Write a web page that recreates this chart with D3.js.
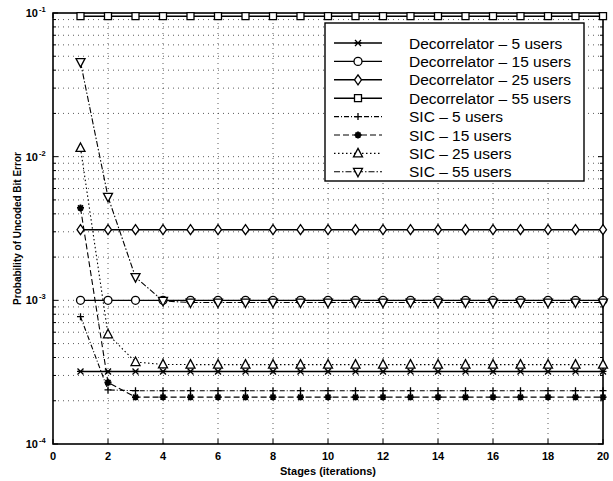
<!DOCTYPE html>
<html>
<head>
<meta charset="utf-8">
<script src="https://cdn.jsdelivr.net/npm/d3@7"></script>
<style>
body { margin: 0; background: #fff; }
text { font-family: "Liberation Sans", Arial, sans-serif; fill: #000; }
</style>
</head>
<body>
<svg id="chart" width="613" height="481"></svg>
<script>
const svgEl = document.getElementById("chart")
const width = +svgEl.getAttribute("width")
const height = +svgEl.getAttribute("height")
const pLeft = 53, pRight = 603, pTop = 13, pBottom = 444
var svg = d3.select("#chart")

// stages 1..20
const stages = d3.range(1, 21)

// Decorrelator curves (flat)
const dec5  = [3.2e-4,3.2e-4,3.2e-4,3.2e-4,3.2e-4,3.2e-4,3.2e-4,3.2e-4,3.2e-4,3.2e-4,3.2e-4,3.2e-4,3.2e-4,3.2e-4,3.2e-4,3.2e-4,3.2e-4,3.2e-4,3.2e-4,3.2e-4]
const dec15 = [1.0e-3,1.0e-3,1.0e-3,1.0e-3,1.0e-3,1.0e-3,1.0e-3,1.0e-3,1.0e-3,1.0e-3,1.0e-3,1.0e-3,1.0e-3,1.0e-3,1.0e-3,1.0e-3,1.0e-3,1.0e-3,1.0e-3,1.0e-3]
const dec25 = [3.1e-3,3.1e-3,3.1e-3,3.1e-3,3.1e-3,3.1e-3,3.1e-3,3.1e-3,3.1e-3,3.1e-3,3.1e-3,3.1e-3,3.1e-3,3.1e-3,3.1e-3,3.1e-3,3.1e-3,3.1e-3,3.1e-3,3.1e-3]
const dec55 = [0.095,0.095,0.095,0.095,0.095,0.095,0.095,0.095,0.095,0.095,0.095,0.095,0.095,0.095,0.095,0.095,0.095,0.095,0.095,0.095]
// SIC curves
const sic5  = [7.7e-4,2.38e-4,2.35e-4,2.35e-4,2.35e-4,2.35e-4,2.35e-4,2.35e-4,2.35e-4,2.35e-4,2.35e-4,2.35e-4,2.35e-4,2.35e-4,2.35e-4,2.35e-4,2.35e-4,2.35e-4,2.35e-4,2.35e-4]
const sic15 = [4.4e-3,2.68e-4,2.12e-4,2.12e-4,2.12e-4,2.12e-4,2.12e-4,2.12e-4,2.12e-4,2.12e-4,2.12e-4,2.12e-4,2.12e-4,2.12e-4,2.12e-4,2.12e-4,2.12e-4,2.12e-4,2.12e-4,2.12e-4]
const sic25 = [1.15e-2,5.8e-4,3.72e-4,3.58e-4,3.57e-4,3.57e-4,3.57e-4,3.57e-4,3.57e-4,3.57e-4,3.57e-4,3.57e-4,3.57e-4,3.57e-4,3.57e-4,3.57e-4,3.57e-4,3.57e-4,3.57e-4,3.57e-4]
const sic55 = [4.55e-2,5.25e-3,1.45e-3,9.9e-4,9.65e-4,9.65e-4,9.65e-4,9.65e-4,9.65e-4,9.65e-4,9.65e-4,9.65e-4,9.65e-4,9.65e-4,9.65e-4,9.65e-4,9.65e-4,9.65e-4,9.65e-4,9.65e-4]

const names = ["Decorrelator \u2013 5 users","Decorrelator \u2013 15 users","Decorrelator \u2013 25 users","Decorrelator \u2013 55 users",
  "SIC \u2013 5 users","SIC \u2013 15 users","SIC \u2013 25 users","SIC \u2013 55 users"]
const values = [dec5, dec15, dec25, dec55, sic5, sic15, sic25, sic55]
const markers = ["x","circle","diamond","square","plus","star","triup","tridown"]
const dashes = [null, null, null, null, "5,2,1,2", "6,3", "1.5,2.5", "6,2,1.5,2"]

const xTicks = [0,2,4,6,8,10,12,14,16,18,20]
const yMajor = [1e-4,1e-3,1e-2,1e-1]
const yLabels = ["-4","-3","-2","-1"]

var x = d3.scaleLinear().domain([0,20]).range([pLeft, pRight])
var y = d3.scaleLog().domain([1e-4,1e-1]).range([pBottom, pTop])

// minor grid values
var yMinor = []
yMajor.slice(0,3).forEach(m => { for (var k = 2; k <= 9; k++) yMinor.push(m*k) })

// grid
var grid = svg.append("g").attr("stroke", "#333").attr("stroke-width", 0.8).attr("stroke-dasharray", "1,4")
grid.selectAll("line.gx").data(xTicks.slice(1,-1)).enter().append("line")
  .attr("x1", d => x(d)).attr("x2", d => x(d)).attr("y1", pTop).attr("y2", pBottom)
grid.selectAll("line.gy").data(yMinor.concat([1e-3,1e-2])).enter().append("line")
  .attr("y1", d => y(d)).attr("y2", d => y(d)).attr("x1", pLeft).attr("x2", pRight)

// frame
svg.append("rect").attr("x", pLeft).attr("y", pTop).attr("width", pRight-pLeft).attr("height", pBottom-pTop)
  .attr("fill", "none").attr("stroke", "#000").attr("stroke-width", 1.6)

// ticks (inward)
var tk = svg.append("g").attr("stroke", "#000").attr("stroke-width", 1)
xTicks.forEach(d => {
  tk.append("line").attr("x1", x(d)).attr("x2", x(d)).attr("y1", pBottom).attr("y2", pBottom-5)
  tk.append("line").attr("x1", x(d)).attr("x2", x(d)).attr("y1", pTop).attr("y2", pTop+5)
})
yMajor.concat(yMinor).forEach(d => {
  var l = yMajor.indexOf(d) >= 0 ? 5 : 3
  tk.append("line").attr("y1", y(d)).attr("y2", y(d)).attr("x1", pLeft).attr("x2", pLeft+l)
  tk.append("line").attr("y1", y(d)).attr("y2", y(d)).attr("x1", pRight).attr("x2", pRight-l)
})

// tick labels
svg.append("g").selectAll("text").data(xTicks).enter().append("text")
  .attr("x", d => x(d)).attr("y", pBottom+16).attr("text-anchor", "middle")
  .attr("font-size", "11px").attr("font-weight", "bold").text(d => d)
var yl = svg.append("g").selectAll("g").data(yMajor).enter().append("g")
  .attr("transform", d => `translate(${pLeft-6},${y(d)+4})`)
yl.append("text").attr("x", -9).attr("text-anchor", "end").attr("font-size", "11px").attr("font-weight", "bold").text("10")
yl.append("text").attr("x", -8).attr("y", -5).attr("font-size", "7.5px").attr("font-weight", "bold").text((d,i) => yLabels[i])

// axis titles
svg.append("text").attr("x", (pLeft+pRight)/2).attr("y", pBottom+31).attr("text-anchor", "middle")
  .attr("font-size", "11px").attr("font-weight", "bold").text("Stages (iterations)")
svg.append("text").attr("transform", `translate(21,${(pTop+pBottom)/2}) rotate(-90)`).attr("text-anchor", "middle")
  .attr("font-size", "10px").attr("font-weight", "bold").text("Probability of Uncoded Bit Error")

function drawMarker(g, type, cx, cy) {
  var s = 4
  var p = g.append("path").attr("transform", `translate(${cx},${cy})`)
    .attr("fill", "none").attr("stroke", "#000").attr("stroke-width", 1.3)
  switch (type) {
    case "x": p.attr("d", `M${-3},${-3}L3,3M${-3},3L3,${-3}M-3.5,0L3.5,0`); break
    case "circle": p.attr("d", d3.symbol(d3.symbolCircle, 50)()); p.attr("fill", "#fff"); break
    case "diamond": p.attr("d", `M0,${-s-1}L${s-0.5},0L0,${s+1}L${-s+0.5},0Z`).attr("fill", "#fff"); break
    case "square": p.attr("d", `M-3.5,-3.5H3.5V3.5H-3.5Z`).attr("fill", "#fff"); break
    case "plus": p.attr("d", `M-3.5,0H3.5M0,-3.5V3.5`); break
    case "star": p.attr("d", `M-3.5,0H3.5M0,-3.5V3.5M-2.5,-2.5L2.5,2.5M-2.5,2.5L2.5,-2.5`).attr("stroke-width", 1.8); break
    case "triup": p.attr("d", `M0,-5L4.5,3.5L-4.5,3.5Z`).attr("fill", "#fff"); break
    case "tridown": p.attr("d", `M0,5L4.5,-3.5L-4.5,-3.5Z`).attr("fill", "#fff"); break
  }
}

var line = d3.line().x((d,i) => x(stages[i])).y(d => y(d))
values.forEach((vals, k) => {
  var g = svg.append("g")
  g.append("path").datum(vals).attr("d", line).attr("fill", "none").attr("stroke", "#000")
    .attr("stroke-width", k < 4 ? 1.4 : 1.1).attr("stroke-dasharray", dashes[k])
  vals.forEach((v, i) => drawMarker(g, markers[k], x(stages[i]), y(v)))
})

// legend
var lg = svg.append("g")
lg.append("rect").attr("x", 325).attr("y", 23).attr("width", 259).attr("height", 158)
  .attr("fill", "#fff").attr("stroke", "#000").attr("stroke-width", 1.4)
names.forEach((n, k) => {
  var ly = 43 + k*18.4
  lg.append("line").attr("x1", 334).attr("x2", 382).attr("y1", ly).attr("y2", ly)
    .attr("stroke", "#000").attr("stroke-width", k < 4 ? 1.4 : 1.1).attr("stroke-dasharray", dashes[k])
  drawMarker(lg, markers[k], 358, ly)
  lg.append("text").attr("x", 409).attr("y", ly+5.5).attr("font-size", "15.5px").text(n)
})
</script>
</body>
</html>
